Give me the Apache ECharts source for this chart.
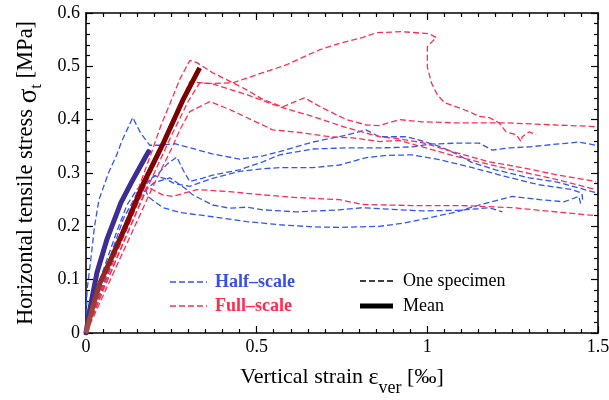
<!DOCTYPE html>
<html><head><meta charset="utf-8">
<script src="https://cdn.jsdelivr.net/npm/echarts@6/dist/echarts.min.js"></script>
<style>html,body{margin:0;padding:0;background:#fff}#c{width:609px;height:400px}</style>
</head><body><div id="c"></div>
<script>
// ---- data: [vertical strain ‰, horizontal tensile stress MPa] ----
const halfF = [[0,0],[0.003,0.08],[0.015,0.143],[0.025,0.2],[0.038,0.25],[0.067,0.302],[0.09,0.334],[0.105,0.36],[0.137,0.404],[0.16,0.375],[0.187,0.352],[0.22,0.352],[0.26,0.355],[0.3,0.348],[0.37,0.336],[0.45,0.326],[0.518,0.332],[0.567,0.34],[0.664,0.358],[0.763,0.371],[0.82,0.381],[0.86,0.368],[0.939,0.368],[0.985,0.36],[1.035,0.35],[1.085,0.336],[1.13,0.32],[1.2,0.306],[1.298,0.291],[1.38,0.283],[1.444,0.272],[1.494,0.263]];
const halfB1 = [[0,0],[0.01,0.035],[0.03,0.08],[0.06,0.135],[0.09,0.19],[0.12,0.24],[0.15,0.27],[0.18,0.285],[0.21,0.298],[0.24,0.318],[0.266,0.33],[0.285,0.305],[0.304,0.284],[0.34,0.29],[0.371,0.296],[0.45,0.306],[0.518,0.321],[0.567,0.334],[0.664,0.345],[0.763,0.347],[0.86,0.347],[0.956,0.349],[1.006,0.354],[1.085,0.356],[1.152,0.356],[1.19,0.343],[1.24,0.347],[1.298,0.349],[1.377,0.354],[1.444,0.358],[1.494,0.352]];
const halfB3 = [[0,0],[0.02,0.045],[0.05,0.1],[0.08,0.16],[0.11,0.215],[0.14,0.25],[0.17,0.275],[0.2,0.295],[0.23,0.29],[0.26,0.28],[0.304,0.275],[0.371,0.29],[0.45,0.303],[0.518,0.308],[0.567,0.31],[0.664,0.31],[0.743,0.315],[0.822,0.329],[0.88,0.333],[0.956,0.334],[1.035,0.325],[1.132,0.31],[1.231,0.293],[1.327,0.278],[1.424,0.269],[1.453,0.262],[1.455,0.25]];
const halfU = [[0,0],[0.02,0.04],[0.05,0.09],[0.08,0.145],[0.11,0.19],[0.14,0.235],[0.17,0.265],[0.2,0.282],[0.246,0.291],[0.295,0.269],[0.313,0.259],[0.371,0.24],[0.421,0.234],[0.471,0.236],[0.518,0.231],[0.617,0.227],[0.743,0.231],[0.81,0.235],[0.889,0.232],[0.985,0.229],[1.085,0.23],[1.15,0.233],[1.18,0.235],[1.22,0.227]];
const halfL = [[0,0],[0.02,0.035],[0.05,0.085],[0.08,0.14],[0.11,0.19],[0.14,0.235],[0.16,0.262],[0.17,0.285],[0.178,0.262],[0.187,0.253],[0.225,0.235],[0.275,0.226],[0.371,0.218],[0.471,0.209],[0.567,0.203],[0.664,0.199],[0.743,0.198],[0.86,0.2],[0.93,0.206],[1.006,0.216],[1.085,0.227],[1.152,0.24],[1.249,0.256],[1.33,0.25],[1.4,0.246],[1.444,0.256],[1.45,0.24]];
const fullA = [[0,0],[0.03,0.06],[0.07,0.13],[0.11,0.2],[0.15,0.265],[0.19,0.335],[0.22,0.39],[0.246,0.43],[0.275,0.476],[0.304,0.511],[0.325,0.507],[0.371,0.488],[0.471,0.456],[0.518,0.438],[0.576,0.424],[0.64,0.441],[0.693,0.422],[0.763,0.4],[0.822,0.39],[0.86,0.389],[0.918,0.4],[0.985,0.396],[1.085,0.394],[1.231,0.394],[1.377,0.39],[1.494,0.387]];
const fullB = [[0,0],[0.04,0.07],[0.09,0.15],[0.14,0.225],[0.19,0.3],[0.24,0.37],[0.27,0.42],[0.29,0.45],[0.304,0.471],[0.363,0.468],[0.43,0.469],[0.518,0.488],[0.588,0.503],[0.684,0.531],[0.743,0.543],[0.81,0.554],[0.851,0.563],[0.927,0.565],[1.006,0.561],[1.026,0.554],[1.0,0.537],[1.0,0.499],[1.012,0.469],[1.029,0.447],[1.05,0.432],[1.085,0.424],[1.123,0.415],[1.152,0.406],[1.181,0.404],[1.21,0.394],[1.231,0.377],[1.26,0.372],[1.275,0.359],[1.278,0.368],[1.298,0.377],[1.319,0.372]];
const fullC = [[0,0],[0.05,0.08],[0.1,0.155],[0.15,0.23],[0.2,0.3],[0.25,0.37],[0.3,0.435],[0.333,0.469],[0.371,0.467],[0.471,0.447],[0.567,0.424],[0.664,0.406],[0.763,0.385],[0.86,0.368],[0.918,0.364],[0.985,0.357],[1.085,0.338],[1.181,0.321],[1.278,0.31],[1.377,0.297],[1.494,0.284]];
const fullD = [[0,0],[0.05,0.07],[0.1,0.14],[0.15,0.21],[0.2,0.28],[0.25,0.345],[0.275,0.381],[0.304,0.415],[0.363,0.434],[0.421,0.419],[0.471,0.404],[0.547,0.381],[0.626,0.376],[0.713,0.368],[0.781,0.366],[0.86,0.359],[0.918,0.361],[0.985,0.349],[1.085,0.331],[1.181,0.316],[1.278,0.302],[1.377,0.288],[1.494,0.269]];
const fullE = [[0,0],[0.03,0.05],[0.07,0.11],[0.11,0.17],[0.14,0.215],[0.16,0.245],[0.178,0.274],[0.225,0.259],[0.254,0.256],[0.325,0.269],[0.421,0.265],[0.518,0.259],[0.617,0.254],[0.743,0.25],[0.81,0.241],[0.956,0.239],[1.102,0.239],[1.249,0.235],[1.395,0.226],[1.494,0.22]];
const halfMean = [[0,0],[0.01,0.04],[0.032,0.113],[0.061,0.175],[0.102,0.244],[0.132,0.281],[0.175,0.331],[0.183,0.34]];
const fullMean = [[0,0],[0.02,0.049],[0.041,0.094],[0.067,0.13],[0.12,0.206],[0.17,0.283],[0.228,0.358],[0.284,0.437],[0.333,0.497]];
const xTicks = [0, 0.5, 1, 1.5];
const yTicks = [0, 0.1, 0.2, 0.3, 0.4, 0.5, 0.6];

const BLUE = '#3355f0', RED = '#ff2d52';
const FONT = 'Liberation Serif';
const dash = [6, 3];

function spec(data, color) {
  return {type:'line', data, showSymbol:false, symbol:'none', silent:true, animation:false,
    lineStyle:{color, width:1.3, type:dash}, z:2};
}
const series = [
  spec(halfF, BLUE), spec(halfB1, BLUE), spec(halfB3, BLUE), spec(halfU, BLUE), spec(halfL, BLUE),
  spec(fullA, RED), spec(fullB, RED), spec(fullC, RED), spec(fullD, RED), spec(fullE, RED),
  {type:'line', data:halfMean, showSymbol:false, symbol:'none', silent:true, animation:false, z:3,
    lineStyle:{color:'#3d2e92', width:5, cap:'round'}},
  {type:'line', data:fullMean, showSymbol:false, symbol:'none', silent:true, animation:false, z:4,
    lineStyle:{width:5, cap:'butt', color:new echarts.graphic.LinearGradient(0,0,0,1,[
      {offset:0,color:'#780000'},{offset:0.6,color:'#820606'},{offset:0.8,color:'#953028'},{offset:1,color:'#a85244'}])}}
];

const tickStyle = {color:'#000', width:1.2};
function xAx(pos, show) {
  return {type:'value', min:xTicks[0], max:xTicks[xTicks.length-1], interval:0.5, position:pos,
    axisLine:{show:true, onZero:false, lineStyle:{color:'#000', width:1.6}},
    axisTick:{show:true, inside:true, length:7, lineStyle:tickStyle},
    minorTick:{show:true, splitNumber:10, length:4, lineStyle:tickStyle},
    splitLine:{show:false}, minorSplitLine:{show:false},
    axisLabel:{show:show, fontFamily:FONT, fontSize:18, color:'#000', margin:5},
    name: show ? '{a|Vertical strain }{e|ε}{s|ver}{a| [‰]}' : '',
    nameLocation:'middle', nameGap:33,
    nameTextStyle:{rich:{
      a:{fontFamily:FONT, fontSize:22, color:'#000', lineHeight:24, verticalAlign:'top'},
      e:{fontFamily:FONT, fontSize:24, color:'#000', lineHeight:24, verticalAlign:'top'},
      s:{fontFamily:FONT, fontSize:18, color:'#000', lineHeight:18, verticalAlign:'top', padding:[13,0,0,0]}
    }}
  };
}
function yAx(pos, show) {
  return {type:'value', min:yTicks[0], max:yTicks[yTicks.length-1], interval:0.1, position:pos,
    axisLine:{show:true, onZero:false, lineStyle:{color:'#000', width:1.6}},
    axisTick:{show:true, inside:true, length:7, lineStyle:tickStyle},
    minorTick:{show:true, splitNumber:5, length:4, lineStyle:tickStyle},
    splitLine:{show:false}, minorSplitLine:{show:false},
    axisLabel:{show:show, fontFamily:FONT, fontSize:18, color:'#000', margin:6},
    name: show ? '{a|Horizontal tensile stress }{e|σ}{s|t}{a| [MPa]}' : '',
    nameLocation:'middle', nameGap:47, nameRotate:90,
    nameTextStyle:{rich:{
      a:{fontFamily:FONT, fontSize:22.5, color:'#000', lineHeight:24, verticalAlign:'top'},
      e:{fontFamily:FONT, fontSize:27, color:'#000', lineHeight:24, verticalAlign:'top'},
      s:{fontFamily:FONT, fontSize:17, color:'#000', lineHeight:18, verticalAlign:'top', padding:[13,0,0,0]}
    }}
  };
}

const chart = echarts.init(document.getElementById('c'), null, {renderer:'canvas'});
chart.setOption({
  animation:false,
  backgroundColor:'#fff',
  grid:{left:86, top:13, right:11, bottom:67, containLabel:false, outerBoundsMode:'none'},
  xAxis:[xAx('bottom', true), xAx('top', false)],
  yAxis:[yAx('left', true), yAx('right', false)],
  series,
  graphic:[
    {type:'line', shape:{x1:170,y1:282,x2:207,y2:282}, style:{stroke:BLUE, lineWidth:1.3, lineDash:dash}},
    {type:'text', x:215, y:282, style:{text:'Half–scale', font:'bold 18px "Liberation Serif"', fill:'#3a4fe8', verticalAlign:'middle'}},
    {type:'line', shape:{x1:170,y1:306,x2:207,y2:306}, style:{stroke:RED, lineWidth:1.3, lineDash:dash}},
    {type:'text', x:215, y:306, style:{text:'Full–scale', font:'bold 18px "Liberation Serif"', fill:'#ff2a4e', verticalAlign:'middle'}},
    {type:'line', shape:{x1:360,y1:281,x2:393,y2:281}, style:{stroke:'#000', lineWidth:1.3, lineDash:dash}},
    {type:'text', x:403, y:281, style:{text:'One specimen', font:'18px "Liberation Serif"', fill:'#000', verticalAlign:'middle'}},
    {type:'line', shape:{x1:360,y1:306,x2:393,y2:306}, style:{stroke:'#000', lineWidth:5}},
    {type:'text', x:403, y:306, style:{text:'Mean', font:'18px "Liberation Serif"', fill:'#000', verticalAlign:'middle'}}
  ]
});
</script></body></html>
